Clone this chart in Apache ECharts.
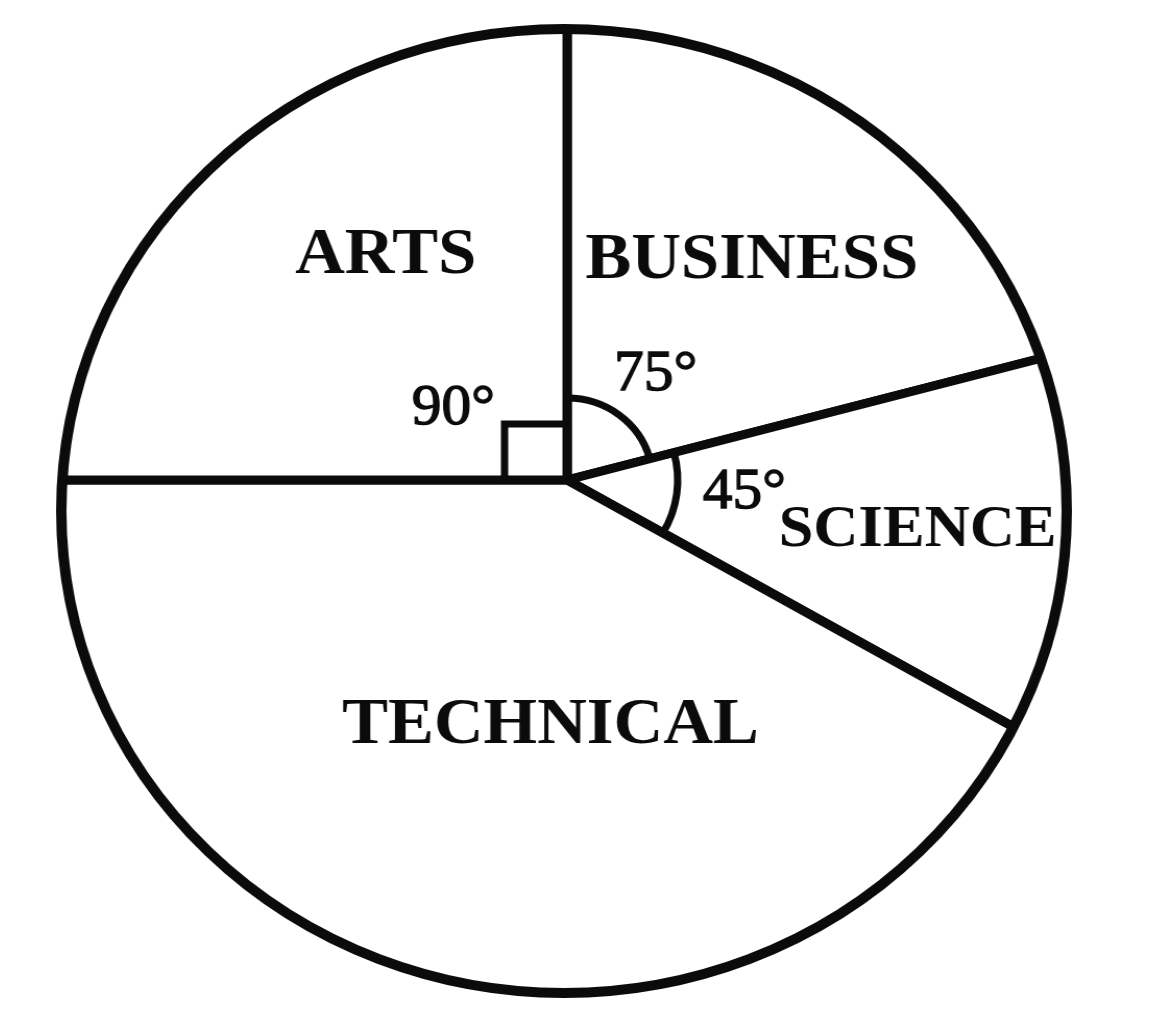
<!DOCTYPE html>
<html>
<head>
<meta charset="utf-8">
<script src="https://cdn.jsdelivr.net/npm/echarts@6/dist/echarts.min.js"></script>
<style>
html,body{margin:0;padding:0;background:#ffffff;overflow:hidden;}
#chart{width:1161px;height:1022px;transform:scaleX(1.043);transform-origin:564px 0;}
</style>
</head>
<body>
<div id="chart"></div>
<script>
// ---- data (clockwise from 12 o'clock) ----
const categories = ['BUSINESS', 'SCIENCE', 'TECHNICAL', 'ARTS'];
const angles = [75, 45, 150, 90];
const angleLabels = ['75°', '45°', '', '90°'];

// ---- layout / style (not data) ----
const INK = '#0b0b0b';
const FONT = "'Liberation Serif', 'Times New Roman', serif";
const VX = 567, VY = 480;            // common vertex of the slices
const CX = 564, CY = 511, R = 482;   // outline circle
const labelPos = { BUSINESS: [744, 261], SCIENCE: [903, 530], TECHNICAL: [551, 726], ARTS: [393, 256] };
const labelSize = { BUSINESS: 66, SCIENCE: 60, TECHNICAL: 66, ARTS: 66 };
const anglePos = { BUSINESS: [652, 375], SCIENCE: [737, 493], ARTS: [458, 409] };

const chart = echarts.init(document.getElementById('chart'), null, { renderer: 'canvas' });

function absLabel(map) {
  return function (p) {
    const pos = map[categories[p.dataIndex]];
    if (!pos) return {};
    return { x: pos[0], y: pos[1], align: 'center', verticalAlign: 'middle' };
  };
}

const sliceData = categories.map((c, i) => ({
  name: c,
  value: angles[i],
  label: { fontSize: labelSize[c] }
}));

function markerData(arcIdx, labelIdx) {
  return categories.map((c, i) => ({
    name: c,
    value: angles[i],
    itemStyle: arcIdx.indexOf(i) >= 0
      ? { color: 'rgba(0,0,0,0)', borderColor: INK, borderWidth: 7 }
      : { color: 'rgba(0,0,0,0)', borderWidth: 0 },
    label: { show: labelIdx.indexOf(i) >= 0 && !!angleLabels[i] }
  }));
}

const angleLabelStyle = {
  position: 'inside',
  formatter: p => angleLabels[p.dataIndex],
  fontFamily: FONT, fontSize: 57, color: INK,
  textBorderColor: INK, textBorderWidth: 1.3
};

const option = {
  backgroundColor: '#ffffff',
  animation: false,
  series: [
    {
      name: 'slices',
      type: 'pie',
      z: 2,
      center: [VX, VY],
      radius: 540,
      startAngle: 90,
      clockwise: true,
      silent: true,
      avoidLabelOverlap: false,
      emphasis: { disabled: true },
      itemStyle: { color: '#ffffff', borderColor: INK, borderWidth: 9 },
      label: {
        show: true, position: 'inside', formatter: '{b}',
        fontFamily: FONT, fontSize: 66, fontWeight: 'bold', color: INK
      },
      labelLine: { show: false },
      labelLayout: absLabel(labelPos),
      data: sliceData
    },
    {
      name: 'arcA',
      type: 'pie',
      z: 3,
      center: [VX, VY],
      radius: 82,
      startAngle: 90,
      clockwise: true,
      silent: true,
      avoidLabelOverlap: false,
      emphasis: { disabled: true },
      label: angleLabelStyle,
      labelLine: { show: false },
      labelLayout: absLabel({ BUSINESS: anglePos.BUSINESS, ARTS: anglePos.ARTS }),
      data: markerData([0], [0, 3])
    },
    {
      name: 'arcB',
      type: 'pie',
      z: 3,
      center: [VX, VY],
      radius: 106,
      startAngle: 90,
      clockwise: true,
      silent: true,
      avoidLabelOverlap: false,
      emphasis: { disabled: true },
      label: angleLabelStyle,
      labelLine: { show: false },
      labelLayout: absLabel({ SCIENCE: anglePos.SCIENCE }),
      data: markerData([1], [1])
    },
    {
      name: 'outline',
      type: 'pie',
      z: 6,
      center: [CX, CY],
      radius: [R, 900],
      silent: true,
      emphasis: { disabled: true },
      label: { show: false },
      labelLine: { show: false },
      itemStyle: { color: '#ffffff', borderColor: INK, borderWidth: 10 },
      data: [{ name: 'outline', value: 1 }]
    }
  ],
  graphic: [
    {
      type: 'rect',
      z: 10,
      silent: true,
      shape: { x: VX - 60, y: VY - 56, width: 60, height: 56 },
      style: { fill: 'none', stroke: INK, lineWidth: 7 }
    }
  ]
};

chart.setOption(option);
</script>
</body>
</html>
